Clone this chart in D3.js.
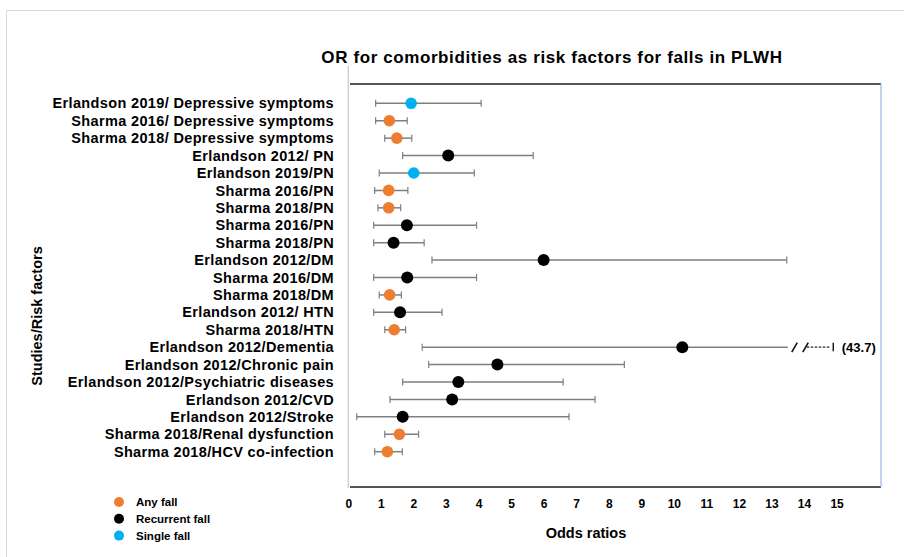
<!DOCTYPE html>
<html>
<head>
<meta charset="utf-8">
<script src="https://cdn.jsdelivr.net/npm/d3@7"></script>
<style>
  html, body { margin: 0; padding: 0; background: #fff; }
  svg { display: block; }
  text { font-family: "Liberation Sans", Arial, sans-serif; font-weight: bold; fill: #000; }
</style>
</head>
<body>
<svg id="chart" width="904" height="557"></svg>
<script>
// ---------- data ----------
const labels = [
  "Erlandson 2019/ Depressive symptoms",
  "Sharma 2016/ Depressive symptoms",
  "Sharma 2018/ Depressive symptoms",
  "Erlandson 2012/ PN",
  "Erlandson 2019/PN",
  "Sharma 2016/PN",
  "Sharma 2018/PN",
  "Sharma 2016/PN",
  "Sharma 2018/PN",
  "Erlandson 2012/DM",
  "Sharma 2016/DM",
  "Sharma 2018/DM",
  "Erlandson 2012/ HTN",
  "Sharma 2018/HTN",
  "Erlandson 2012/Dementia",
  "Erlandson 2012/Chronic pain",
  "Erlandson 2012/Psychiatric diseases",
  "Erlandson 2012/CVD",
  "Erlandson 2012/Stroke",
  "Sharma 2018/Renal dysfunction",
  "Sharma 2018/HCV co-infection"
];
const oddsRatio = [1.93, 1.26, 1.49, 3.07, 2.01, 1.24, 1.24, 1.80, 1.39, 6.00, 1.81, 1.27, 1.59, 1.41, 10.26, 4.58, 3.38, 3.19, 1.67, 1.57, 1.20];
const ciLower   = [0.84, 0.84, 1.12, 1.67, 0.95, 0.81, 0.91, 0.78, 0.78, 2.57, 0.78, 0.95, 0.78, 1.12, 2.27, 2.47, 1.67, 1.28, 0.26, 1.12, 0.81];
const ciUpper   = [4.08, 1.81, 1.95, 5.68, 3.87, 1.83, 1.61, 3.94, 2.33, 13.47, 3.94, 1.63, 2.88, 1.76, 43.7, 8.48, 6.60, 7.58, 6.78, 2.16, 1.66];
const outcome   = ["Single fall", "Any fall", "Any fall", "Recurrent fall", "Single fall", "Any fall", "Any fall", "Recurrent fall", "Recurrent fall", "Recurrent fall", "Recurrent fall", "Any fall", "Recurrent fall", "Any fall", "Recurrent fall", "Recurrent fall", "Recurrent fall", "Recurrent fall", "Recurrent fall", "Any fall", "Any fall"];
const xTicks = [0, 1, 2, 3, 4, 5, 6, 7, 8, 9, 10, 11, 12, 13, 14, 15];
const legendKeys = ["Any fall", "Recurrent fall", "Single fall"];
const legendColors = ["#ED7D31", "#000000", "#00B0F0"];
const axisBreakAt = 13.5;   // whiskers beyond this value are drawn broken
const titleText = "OR for comorbidities as risk factors for falls in PLWH";
const xTitle = "Odds ratios";
const yTitle = "Studies/Risk factors";

// ---------- layout ----------
const svg = d3.select("#chart");
const color = d3.scaleOrdinal().domain(legendKeys).range(legendColors);
const x = d3.scaleLinear().domain([0, 15]).range([348.3, 836.6]);
const y = d3.scalePoint().domain(d3.range(labels.length)).range([103.3, 451.7]);
const frame = { left: 350, right: 881, top: 84, bottom: 487 };

// outer border
svg.append("rect").attr("x", 6.5).attr("y", 10.5).attr("width", 1000).attr("height", 1000)
  .attr("fill", "none").attr("stroke", "#d9d9d9").attr("stroke-width", 1);

// title
svg.append("text").attr("x", 552).attr("y", 57).attr("text-anchor", "middle")
  .attr("dominant-baseline", "central").style("font-size", "17px").style("letter-spacing", "0.6px")
  .text(titleText);

// plot frame
svg.append("line").attr("x1", 348.3).attr("x2", 348.3).attr("y1", 66).attr("y2", 488)
  .attr("stroke", "#d0d0d0").attr("stroke-width", 1.5);
svg.append("line").attr("x1", frame.left).attr("x2", frame.right).attr("y1", frame.top).attr("y2", frame.top)
  .attr("stroke", "#555").attr("stroke-width", 2);
svg.append("line").attr("x1", frame.left).attr("x2", frame.right).attr("y1", frame.bottom).attr("y2", frame.bottom)
  .attr("stroke", "#555").attr("stroke-width", 2);
svg.append("line").attr("x1", frame.right).attr("x2", frame.right).attr("y1", frame.top).attr("y2", frame.bottom)
  .attr("stroke", "#a9c4eb").attr("stroke-width", 1.5);

// y labels
const yAxis = d3.axisLeft(y).tickSize(0).tickPadding(0).tickFormat(i => labels[i]);
const gy = svg.append("g").attr("transform", "translate(334,0)").call(yAxis);
gy.select(".domain").remove();
gy.selectAll("text").style("font-size", "14.5px").style("font-family", "'Liberation Sans', Arial, sans-serif")
  .style("font-weight", "bold").style("letter-spacing", "0.35px").attr("fill", "#000");

// y title
svg.append("text").attr("transform", "translate(37,316) rotate(-90)").attr("text-anchor", "middle")
  .attr("dominant-baseline", "central").style("font-size", "14.5px").text(yTitle);

// x axis ticks
const xAxis = d3.axisBottom(x).tickValues(xTicks).tickSize(0).tickPadding(0).tickFormat(d3.format("d"));
const gx = svg.append("g").attr("transform", "translate(0,499)").call(xAxis);
gx.select(".domain").remove();
gx.selectAll("text").style("font-size", "12px").style("font-family", "'Liberation Sans', Arial, sans-serif")
  .style("font-weight", "bold").attr("fill", "#000");

// x title
svg.append("text").attr("x", 586).attr("y", 533).attr("text-anchor", "middle")
  .attr("dominant-baseline", "central").style("font-size", "14.5px").text(xTitle);

// ---------- whiskers ----------
const rows = labels.map((l, i) => ({ i, or: oddsRatio[i], lo: ciLower[i], hi: ciUpper[i], grp: outcome[i] }));
const wc = "#7f7f7f";
const g = svg.append("g");
rows.forEach(r => {
  const yy = y(r.i);
  const broken = r.hi > axisBreakAt;
  const hiX = broken ? x(axisBreakAt) : x(r.hi);
  g.append("line").attr("x1", x(r.lo)).attr("x2", hiX).attr("y1", yy).attr("y2", yy)
    .attr("stroke", wc).attr("stroke-width", 1.5);
  g.append("line").attr("x1", x(r.lo)).attr("x2", x(r.lo)).attr("y1", yy - 3.5).attr("y2", yy + 3.5)
    .attr("stroke", wc).attr("stroke-width", 1.2);
  if (!broken) {
    g.append("line").attr("x1", hiX).attr("x2", hiX).attr("y1", yy - 3.5).attr("y2", yy + 3.5)
      .attr("stroke", wc).attr("stroke-width", 1.2);
  } else {
    const b = x(axisBreakAt);
    // break slashes
    [4, 15].forEach(o => {
      g.append("line").attr("x1", b + o).attr("x2", b + o + 5.5).attr("y1", yy + 5).attr("y2", yy - 4.5)
        .attr("stroke", "#111").attr("stroke-width", 1.6);
    });
    g.append("line").attr("x1", b + 19).attr("x2", b + 43).attr("y1", yy).attr("y2", yy)
      .attr("stroke", "#222").attr("stroke-width", 1.3).attr("stroke-dasharray", "2.5,1.5");
    g.append("line").attr("x1", b + 45.5).attr("x2", b + 45.5).attr("y1", yy - 4.5).attr("y2", yy + 4)
      .attr("stroke", "#111").attr("stroke-width", 1.4);
    g.append("text").attr("x", b + 54).attr("y", yy).attr("dominant-baseline", "central")
      .style("font-size", "13px").text("(" + r.hi + ")");
  }
});

// dots
g.selectAll("circle.pt").data(rows).join("circle").attr("class", "pt")
  .attr("cx", d => x(d.or)).attr("cy", d => y(d.i))
  .attr("r", d => d.grp === "Recurrent fall" ? 6 : 5.8)
  .attr("fill", d => color(d.grp));

// ---------- legend ----------
const lg = svg.append("g");
legendKeys.forEach((k, i) => {
  const ly = 502 + i * 16.8;
  lg.append("circle").attr("cx", 119).attr("cy", ly).attr("r", 5).attr("fill", color(k));
  lg.append("text").attr("x", 136).attr("y", ly).attr("dominant-baseline", "central")
    .style("font-size", "11.5px").text(k);
});
</script>
</body>
</html>
